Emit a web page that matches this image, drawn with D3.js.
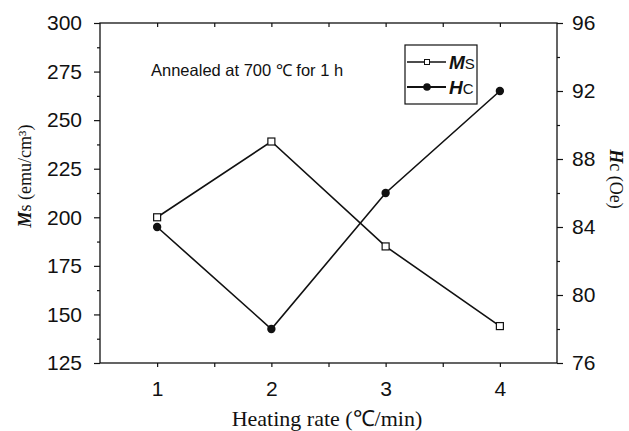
<!DOCTYPE html>
<html><head><meta charset="utf-8">
<script src="https://cdn.jsdelivr.net/npm/d3@7"></script>
<style>html,body{margin:0;padding:0;background:#fff;}svg{display:block;}</style>
</head><body>
<svg id="c" width="629" height="431"></svg>
<script>
const rates = [1, 2, 3, 4];
const msValues = [200, 239, 185, 144];
const hcValues = [84, 78, 86, 92];
const leftTicks = [125, 150, 175, 200, 225, 250, 275, 300];
const rightTicks = [76, 80, 84, 88, 92, 96];
const xTicks = [1, 2, 3, 4];

const svg = d3.select("#c");
const L = 100, R = 557, T = 23, B = 363;
const x = d3.scaleLinear().domain([0.5, 4.5]).range([L, R]);
const yL = d3.scaleLinear().domain([125, 300]).range([B, T]);
const yR = d3.scaleLinear().domain([76, 96]).range([B, T]);
const ink = "#111";
const sans = "Liberation Sans, Arial, sans-serif";
const serif = "Liberation Serif, Times New Roman, serif";

// frame
svg.append("rect").attr("x", L).attr("y", T).attr("width", R - L).attr("height", B - T)
  .attr("fill", "none").attr("stroke", ink).attr("stroke-width", 1.3);

function styleAxis(g, fs) {
  g.select(".domain").remove();
  g.selectAll("line").attr("stroke", ink).attr("stroke-width", 1.2);
  g.selectAll("text").attr("font-family", sans).attr("font-size", fs).attr("fill", ink);
}
// left axis
const gl = svg.append("g").attr("transform", `translate(${L},0)`);
gl.call(d3.axisLeft(yL).tickValues(leftTicks).tickSize(6).tickPadding(12).tickFormat(d3.format("d")));
styleAxis(gl, 21);
svg.append("g").attr("transform", `translate(${L},0)`)
  .call(d3.axisLeft(yL).tickValues(leftTicks.slice(0, -1).map(v => v + 12.5)).tickSize(3).tickFormat(""))
  .call(g => styleAxis(g, 10));
// right axis
const gr = svg.append("g").attr("transform", `translate(${R},0)`);
gr.call(d3.axisRight(yR).tickValues(rightTicks).tickSize(6).tickPadding(9).tickFormat(d3.format("d")));
styleAxis(gr, 21);
svg.append("g").attr("transform", `translate(${R},0)`)
  .call(d3.axisRight(yR).tickValues(rightTicks.slice(0, -1).map(v => v + 2)).tickSize(3).tickFormat(""))
  .call(g => styleAxis(g, 10));
// bottom axis
const gb = svg.append("g").attr("transform", `translate(0,${B})`);
gb.call(d3.axisBottom(x).tickValues(xTicks).tickSize(4).tickPadding(14).tickFormat(d3.format("d")));
styleAxis(gb, 21);
svg.append("g").attr("transform", `translate(0,${B})`)
  .call(d3.axisBottom(x).tickValues([1.5, 2.5, 3.5]).tickSize(4).tickFormat(""))
  .call(g => styleAxis(g, 10));
// top inward ticks
svg.append("g").attr("transform", `translate(0,${T})`)
  .call(d3.axisBottom(x).tickValues([1, 1.5, 2, 2.5, 3, 3.5, 4]).tickSize(4).tickFormat(""))
  .call(g => styleAxis(g, 10));

// lines
const lineMs = d3.line().x((d, i) => x(rates[i])).y(d => yL(d));
const lineHc = d3.line().x((d, i) => x(rates[i])).y(d => yR(d));
svg.append("path").attr("d", lineMs(msValues)).attr("fill", "none").attr("stroke", ink).attr("stroke-width", 1.6);
svg.append("path").attr("d", lineHc(hcValues)).attr("fill", "none").attr("stroke", ink).attr("stroke-width", 1.6);
svg.selectAll(".ms").data(msValues).enter().append("rect")
  .attr("x", (d, i) => x(rates[i]) - 3.5).attr("y", d => yL(d) - 3.5)
  .attr("width", 7).attr("height", 7).attr("fill", "#fff").attr("stroke", ink).attr("stroke-width", 1.2);
svg.selectAll(".hc").data(hcValues).enter().append("circle")
  .attr("cx", (d, i) => x(rates[i])).attr("cy", d => yR(d)).attr("r", 4.2).attr("fill", ink);

// annotation
svg.append("text").attr("x", 151).attr("y", 76).attr("font-family", sans).attr("font-size", 16.5)
  .attr("fill", ink).text("Annealed at 700 ℃ for 1 h");

// legend
svg.append("rect").attr("x", 405).attr("y", 45).attr("width", 72).attr("height", 59)
  .attr("fill", "#fff").attr("stroke", ink).attr("stroke-width", 1.2);
svg.append("line").attr("x1", 407).attr("x2", 446).attr("y1", 62).attr("y2", 62).attr("stroke", ink).attr("stroke-width", 1.4);
svg.append("rect").attr("x", 424.5).attr("y", 59.5).attr("width", 5).attr("height", 5).attr("fill", "#fff").attr("stroke", ink).attr("stroke-width", 1);
svg.append("line").attr("x1", 407).attr("x2", 446).attr("y1", 87).attr("y2", 87).attr("stroke", ink).attr("stroke-width", 1.8);
svg.append("circle").attr("cx", 427).attr("cy", 87).attr("r", 3.8).attr("fill", ink);
const lt1 = svg.append("text").attr("x", 449).attr("y", 69).attr("font-family", sans).attr("fill", ink);
lt1.append("tspan").attr("font-size", 19).attr("font-weight", "bold").attr("font-style", "italic").text("M");
lt1.append("tspan").attr("font-size", 15).text("S");
const lt2 = svg.append("text").attr("x", 449).attr("y", 94).attr("font-family", sans).attr("fill", ink);
lt2.append("tspan").attr("font-size", 19).attr("font-weight", "bold").attr("font-style", "italic").text("H");
lt2.append("tspan").attr("font-size", 15).text("C");

// axis titles
const ylt = svg.append("text").attr("transform", "translate(31,176) rotate(-90)").attr("text-anchor", "middle")
  .attr("font-family", serif).attr("font-size", 18).attr("fill", ink);
ylt.append("tspan").attr("font-weight", "bold").attr("font-style", "italic").text("M");
ylt.append("tspan").text("s (emu/cm³)");
const yrt = svg.append("text").attr("transform", "translate(610,179) rotate(90)").attr("text-anchor", "middle")
  .attr("font-family", serif).attr("font-size", 18).attr("fill", ink);
yrt.append("tspan").attr("font-weight", "bold").attr("font-style", "italic").text("H");
yrt.append("tspan").text("c (Oe)");
svg.append("text").attr("x", 327).attr("y", 426).attr("text-anchor", "middle")
  .attr("font-family", serif).attr("font-size", 22).attr("fill", ink).text("Heating rate (℃/min)");
</script>
</body></html>
